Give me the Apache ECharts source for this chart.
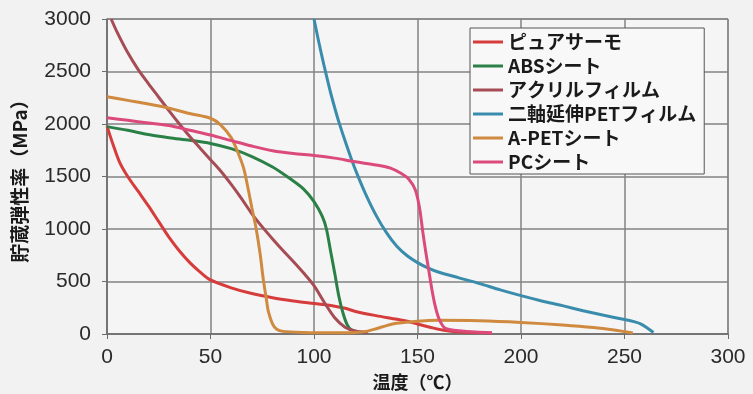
<!DOCTYPE html>
<html><head><meta charset="utf-8">
<script src="https://cdn.jsdelivr.net/npm/echarts@6/dist/echarts.min.js"></script>
<style>html,body{margin:0;padding:0;background:#f1f2f1;}#c{width:753px;height:394px;}</style>
</head><body><div id="c"></div>
<script>
const seriesNames = ['ピュアサーモ','ABSシート','アクリルフィルム','二軸延伸PETフィルム','A-PETシート','PCシート'];
const seriesColors = ['#d63c3c','#2b8048','#a64c55','#3a8cac','#d08a40','#dc4a7c'];
const xTicks = [0,50,100,150,200,250,300];
const yTicks = [0,500,1000,1500,2000,2500,3000];
const pureThermo = [[0,1980],[3,1800],[6,1640],[10,1500],[15,1360],[20,1220],[25,1070],[30,920],[35,790],[40,680],[45,590],[50,515],[60,440],[70,385],[80,345],[90,315],[100,290],[110,265],[115,245],[120,215],[130,175],[140,140],[146,117],[150,95],[156,65],[162,38],[170,20],[186,10]];
const absSheet = [[0,1975],[10,1940],[20,1900],[30,1870],[40,1845],[50,1815],[60,1765],[70,1690],[80,1590],[88,1485],[95,1380],[100,1260],[104,1120],[106,1000],[108,790],[110,580],[112,360],[114,200],[116,90],[118,40],[121,20]];
const acrylic = [[2,3000],[5,2870],[10,2680],[15,2520],[20,2385],[25,2255],[30,2125],[35,2000],[40,1880],[45,1770],[50,1660],[55,1550],[60,1425],[65,1290],[70,1145],[75,1020],[80,905],[85,795],[90,690],[95,580],[100,460],[105,300],[110,155],[115,65],[120,28],[126,15]];
const biaxPet = [[100,3000],[102,2810],[104,2630],[106,2460],[108,2300],[110,2155],[112,2020],[115,1840],[118,1670],[121,1515],[125,1330],[130,1130],[135,965],[140,835],[145,745],[150,680],[155,630],[160,590],[170,535],[180,480],[190,420],[200,365],[210,315],[220,270],[230,222],[240,178],[250,138],[255,115],[258,95],[261,58],[264,15]];
const aPet = [[0,2260],[10,2225],[20,2190],[30,2150],[40,2100],[50,2055],[55,1990],[60,1870],[63,1740],[66,1580],[68,1400],[70,1200],[72,1010],[74,760],[75.5,520],[77,330],[78,210],[80,95],[82,45],[85,25],[95,15],[110,12],[120,15],[125,25],[130,50],[135,80],[140,102],[150,122],[160,130],[180,126],[200,110],[220,86],[235,62],[245,38],[254,10]];
const pcSheet = [[0,2060],[10,2035],[20,2010],[30,1985],[40,1940],[50,1895],[60,1842],[70,1790],[80,1745],[90,1718],[100,1700],[110,1675],[120,1640],[130,1610],[137,1580],[142,1530],[146,1470],[149,1370],[151,1200],[152.5,980],[154,780],[155.5,600],[157,420],[158.5,270],[160,165],[161.5,100],[163,60],[166,40],[170,30],[178,18],[186,10]];
const allData = [pureThermo, absSheet, acrylic, biaxPet, aPet, pcSheet];

const chart = echarts.init(document.getElementById('c'), null, {renderer:'canvas'});
const axisLabelStyle = {color:'#2a2a2a', fontSize:21, fontFamily:'Liberation Sans, Arial, sans-serif'};
chart.setOption({
  backgroundColor:'#f1f2f1',
  animation:false,
  grid:{left:107, right:25, top:19, bottom:60, outerBoundsMode:'none', containLabel:false, show:true, backgroundColor:'#f4f5f4', borderColor:'#7d7d7d', borderWidth:1},
  legend:{
    left:470, top:28, orient:'vertical',
    data: seriesNames,
    icon:'rect', itemWidth:30, itemHeight:3, itemGap:4,
    backgroundColor:'#f7f8f7', borderColor:'#555', borderWidth:1,
    padding:[4,8,2,3],
    textStyle:{color:'#1a1a1a', fontSize:19, fontWeight:'bold', lineHeight:20, fontFamily:'Noto Sans CJK JP, sans-serif'}
  },
  xAxis:{
    type:'value', min:0, max:300, interval:50,
    name:'温度（℃）', nameLocation:'middle', nameGap:38,
    nameTextStyle:{color:'#1a1a1a', fontSize:18, fontWeight:'bold', fontFamily:'Noto Sans CJK JP, sans-serif'},
    axisLine:{show:true, lineStyle:{color:'#6d6d6d', width:1.5}},
    axisTick:{show:true, length:5, lineStyle:{color:'#6d6d6d'}},
    axisLabel:Object.assign({margin:13, formatter:v=>xTicks.includes(v)?String(v):''}, axisLabelStyle),
    splitLine:{show:true, lineStyle:{color:'#828282', width:1.5}}
  },
  yAxis:{
    type:'value', min:0, max:3000, interval:500,
    name:'貯蔵弾性率（MPa）', nameLocation:'middle', nameGap:78,
    nameTextStyle:{color:'#1a1a1a', fontSize:19, fontWeight:'bold', fontFamily:'Noto Sans CJK JP, sans-serif'},
    axisLine:{show:true, lineStyle:{color:'#6d6d6d', width:1.5}},
    axisTick:{show:true, length:5, lineStyle:{color:'#6d6d6d'}},
    axisLabel:Object.assign({margin:16, formatter:v=>yTicks.includes(v)?String(v):''}, axisLabelStyle),
    splitLine:{show:true, lineStyle:{color:'#828282', width:1.5}}
  },
  series: seriesNames.map((n,i)=>({
    name:n, type:'line', data:allData[i], smooth:0.3, showSymbol:false, symbol:'none',
    lineStyle:{color:seriesColors[i], width:3}, itemStyle:{color:seriesColors[i]}, clip:true
  }))
});
</script></body></html>
